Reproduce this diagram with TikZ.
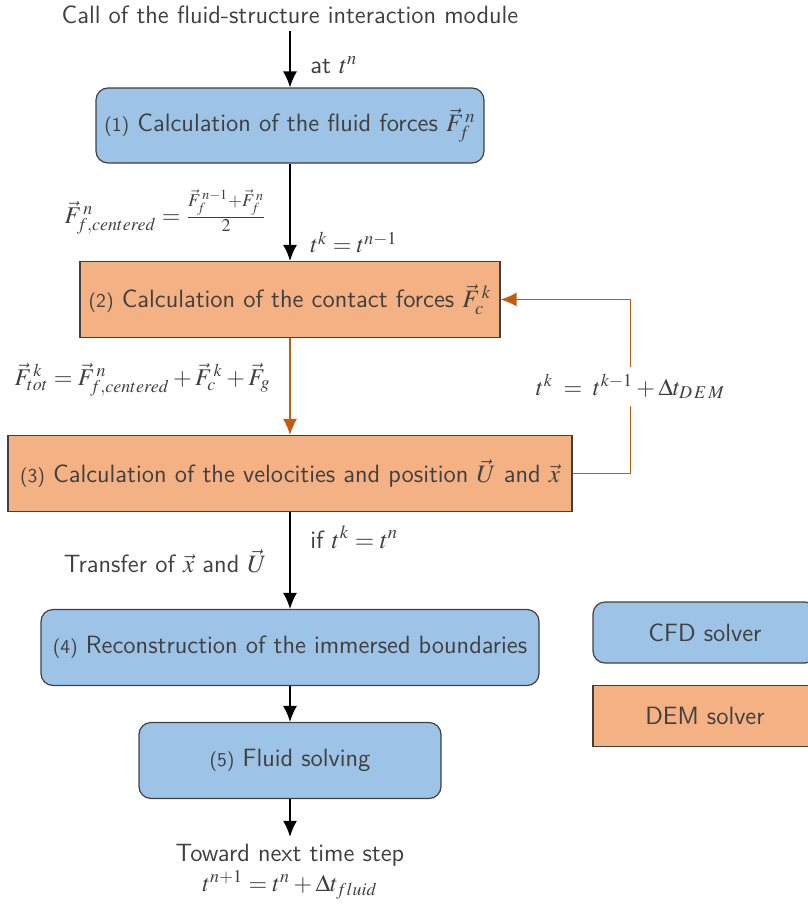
\documentclass[tikz,border=0pt]{standalone}
\usepackage{mathptmx}
\renewcommand{\sfdefault}{lmss}
\usepackage{tikz}
\usetikzlibrary{shapes,arrows,arrows.meta}

\definecolor{cfdblue}{HTML}{9DC3E6}
\definecolor{demorange}{HTML}{F4B183}
\definecolor{looporange}{HTML}{C55A11}
\definecolor{boxgray}{HTML}{404040}
\definecolor{txtgray}{HTML}{404040}
\newcommand{\stepnum}[1]{{\fontsize{9.8}{11}\selectfont(#1)}}

\begin{document}
\begin{tikzpicture}[auto, node distance=87pt, >={Latex[length=8pt,width=7pt]}]
     		%define block styles
     		\tikzset{
     			cfd/.style={rectangle, rounded corners=6pt, minimum height=38pt, text centered, draw=boxgray, line width=0.6pt, fill=cfdblue, text=txtgray, font=\sffamily\fontsize{12.5}{15}\selectfont},
     			dem/.style={rectangle, minimum height=38pt, text centered, draw=boxgray, line width=0.6pt, fill=demorange, text=txtgray, font=\sffamily\fontsize{12.5}{15}\selectfont},
     			txt/.style={text=txtgray, font=\sffamily\fontsize{12.5}{15}\selectfont},
     			mathtxt/.style={text=txtgray, font=\fontsize{12}{14.4}\selectfont},
     			arrow/.style={line width=0.75pt,->},
     			looparrow/.style={line width=0.75pt,->,draw=looporange,>={Latex[length=8pt,width=7pt,color=looporange]}},
     			}
     		\useasboundingbox (0,0) rectangle (404pt,-452.5pt);
     		%define nodes
     		\node[txt] (call) at (145pt,-7.5pt) {Call of the fluid-structure interaction module};
     		\node[cfd, minimum width=194pt, minimum height=37.5pt, below of=call, yshift=31.75pt](fluidforces){\stepnum{1} Calculation of the fluid forces $\vec{F}^{\,n}_f$};
     		\node[dem, minimum width=210pt, below of=fluidforces](contact){\stepnum{2} Calculation of the contact forces $\vec{F}^{\,k}_c$};
     		\node[dem, minimum width=282pt, below of=contact](velocities){\stepnum{3} Calculation of the velocities and position $\vec{U}$ and $\vec{x}$};
     		\node[cfd, minimum width=249pt, below of=velocities](reconstruct){\stepnum{4} Reconstruction of the immersed boundaries};
     		\node[cfd, minimum width=151pt, below of=reconstruct, yshift=30.5pt](fluidsolve){\stepnum{5} Fluid solving};
     		\node[txt, align=center, below of=fluidsolve, yshift=31.5pt](nextstep){Toward next time step\\ {\fontsize{12}{14.4}\selectfont$t^{n+1} = t^n + \Delta t_{fluid}$}};
     		%legend
     		\node[cfd, minimum width=112pt, minimum height=30.5pt] (cfdsolver) at (352.5pt,-316.25pt) {CFD solver};
     		\node[dem, minimum width=112pt, minimum height=30.5pt, below of=cfdsolver, yshift=45.25pt] (demsolver) {DEM solver};
     		%define arrows
     		\draw[arrow] (call) -- node[txt, pos=0.6, anchor=west, xshift=6.5pt] {at $t^n$} (fluidforces);
     		\draw[arrow] (fluidforces) -- node[mathtxt, pos=0.5, anchor=east, xshift=-8pt] {$\vec{F}^{\,n}_{f,centered} = \frac{\vec{F}^{\,n-1}_f+\vec{F}^{\,n}_f}{2}$}
     		    node[mathtxt, pos=0.81, anchor=west, xshift=6.5pt] {$t^k = t^{n-1}$} (contact);
     		\draw[looparrow] (contact) -- node[mathtxt, pos=0.43, anchor=east, xshift=-6pt] {$\vec{F}^{\,k}_{tot} = \vec{F}^{\,n}_{f,centered} + \vec{F}^{\,k}_c + \vec{F}_g$} (velocities);
     		\draw[looparrow] (velocities.east) -- ++(29pt,0) |- node[mathtxt, pos=0.25, anchor=center, fill=white] {$t^k\;=\;t^{k-1} + \Delta t_{D\,E\,M}$} (contact.east);
     		\draw[arrow] (velocities) -- node[txt, pos=0.26, anchor=west, xshift=6.5pt] {if $t^k = t^n$}
     		    node[txt, pos=0.51, anchor=east, xshift=-8pt] {Transfer of $\vec{x}$ and $\vec{U}$} (reconstruct);
     		\draw[arrow] (reconstruct) -- (fluidsolve);
     		\draw[arrow] (fluidsolve) -- (nextstep);
\end{tikzpicture}
\end{document}
